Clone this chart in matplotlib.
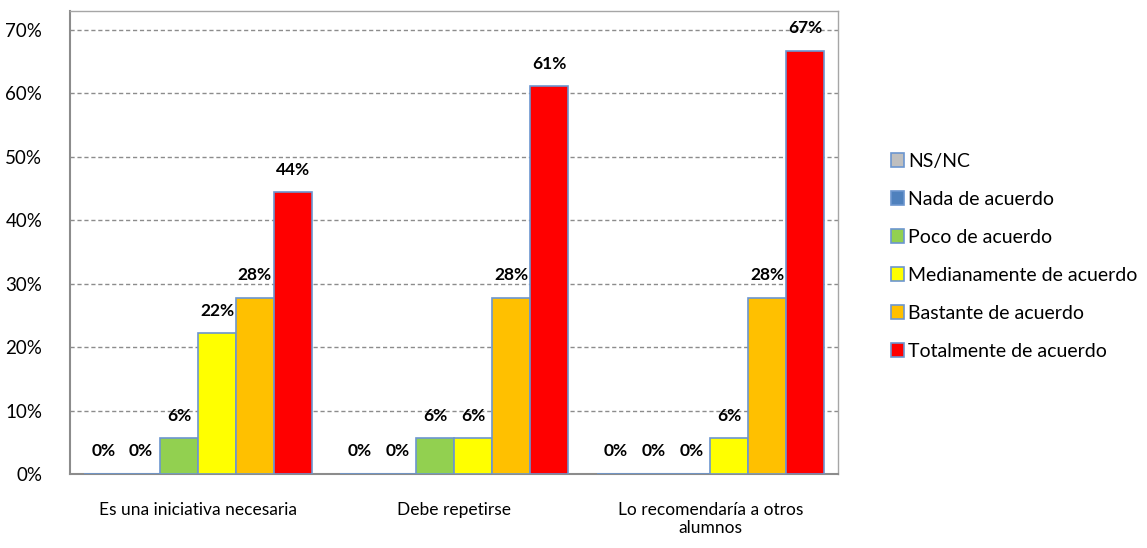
import numpy as np
import matplotlib
matplotlib.use("Agg")
import matplotlib.pyplot as plt
from matplotlib.ticker import PercentFormatter

plt.rcParams['font.family'] = ['Lato', 'DejaVu Sans']

categories = ['Es una iniciativa necesaria', 'Debe repetirse', 'Lo recomendaría a otros\nalumnos']
series = ['NS/NC', 'Nada de acuerdo', 'Poco de acuerdo', 'Medianamente de acuerdo',
          'Bastante de acuerdo', 'Totalmente de acuerdo']
values = [
    [0.0, 0.0, 0.0],        # NS/NC
    [0.0, 0.0, 0.0],        # Nada de acuerdo
    [5.6, 5.6, 0.0],        # Poco de acuerdo
    [22.2, 5.6, 5.6],       # Medianamente de acuerdo
    [27.8, 27.8, 27.8],     # Bastante de acuerdo
    [44.4, 61.1, 66.7],     # Totalmente de acuerdo
]
colors = ['#BFBFBF', '#4F81BD', '#92D050', '#FFFF00', '#FFC000', '#FF0000']

fig = plt.figure(figsize=(11.47, 5.48), dpi=100)
ax = fig.add_axes([0.061, 0.135, 0.67, 0.845])

x = np.arange(len(categories))
w = 0.148
for i, (name, vals) in enumerate(zip(series, values)):
    pos = x + (i - 2.5) * w
    ax.bar(pos, vals, w, color=colors[i], edgecolor='#6C96CF', linewidth=1.2,
           label=name, zorder=3)
    for p, v in zip(pos, vals):
        ax.text(p, v + 2.3, '%d%%' % round(v), ha='center', va='bottom',
                fontsize=12.5, fontweight='bold', zorder=4)

ax.set_xlim(-0.5, 2.5)
ax.set_ylim(0, 73)
ax.set_yticks(np.arange(0, 71, 10))
ax.yaxis.set_major_formatter(PercentFormatter(decimals=0))
ax.set_xticks(x)
ax.set_xticklabels(categories, fontsize=12.5)
ax.tick_params(axis='y', labelsize=13.5, length=0, pad=20)
ax.tick_params(axis='x', length=0, pad=20)
ax.yaxis.grid(True, linestyle=(0, (3, 2)), color='#8C8C8C', linewidth=1, zorder=0)
for s in ax.spines.values():
    s.set_color('#8C8C8C')
    s.set_linewidth(1.5)
ax.spines['top'].set_color('#A6A6A6')
ax.spines['right'].set_color('#A6A6A6')
ax.spines['top'].set_linewidth(1)
ax.spines['right'].set_linewidth(1)

ax.legend(loc='center left', bbox_to_anchor=(1.045, 0.47), frameon=False,
          fontsize=14, handlelength=0.7, handleheight=0.7, handletextpad=0.2,
          labelspacing=1.08)

fig.savefig('out.png', dpi=100)
